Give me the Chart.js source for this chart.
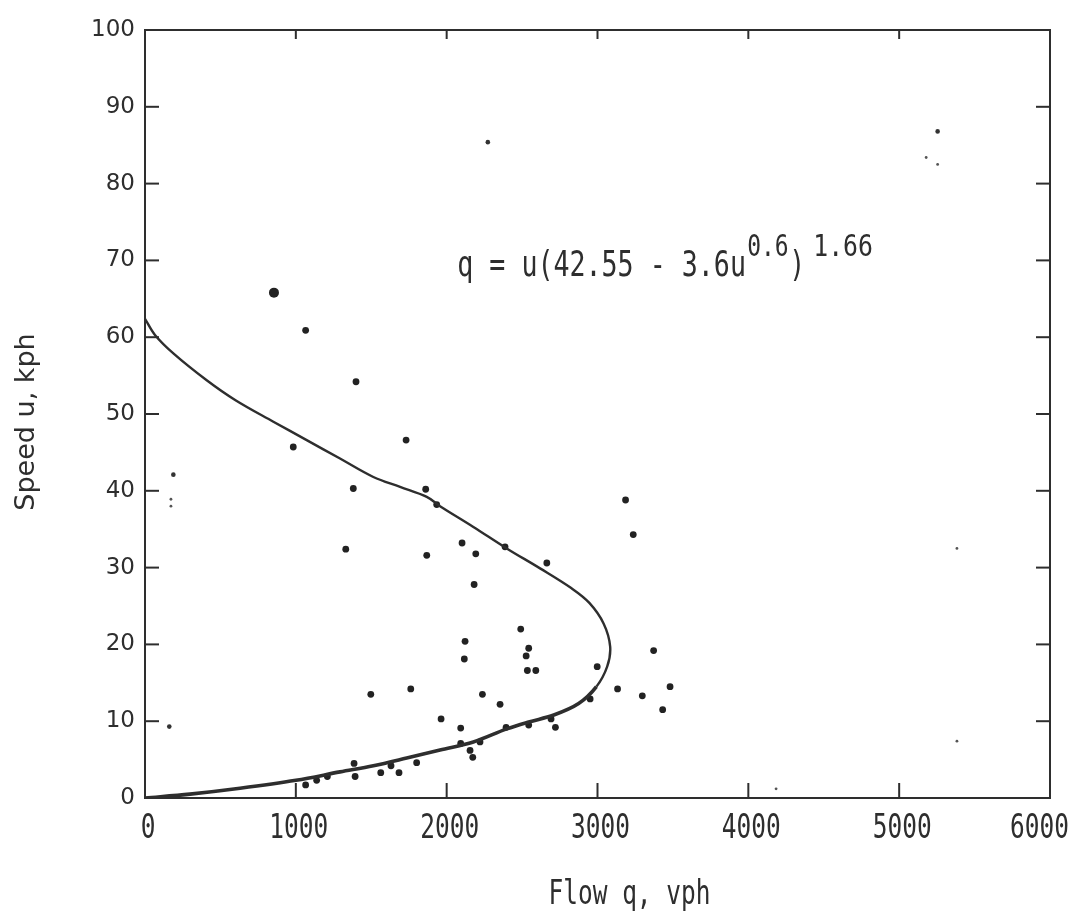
<!DOCTYPE html>
<html lang="en">
<head>
<meta charset="UTF-8">
<title>Speed-Flow Relationship</title>
<script src="https://cdn.jsdelivr.net/npm/chart.js"></script>
<style>
  html, body { margin: 0; padding: 0; background: #fff; }
  #wrap { width: 1074px; height: 915px; }
</style>
</head>
<body>
<div id="wrap"><canvas id="chart" width="1074" height="915"></canvas></div>
<script>
// axis ticks
const flowTicks = [0, 1000, 2000, 3000, 4000, 5000, 6000];
const speedTicks = [0, 10, 20, 30, 40, 50, 60, 70, 80, 90, 100];

// fitted curve, from the free-flow end round the nose to the origin
const curveFlow = [0, 66, 188, 409, 600, 851, 1072, 1293, 1514, 1691, 1868, 1956, 2177, 2398, 2619,
  2828, 2946, 3041, 3084, 3064, 2993, 2875, 2710, 2544, 2398, 2177, 1956, 1735, 1514, 1293, 1001, 630, 298, 0];
const curveSpeed = [62.4, 60.3, 57.9, 54.4, 51.8, 49.0, 46.6, 44.2, 41.8, 40.5, 39.2, 38.0, 35.3, 32.5, 29.9,
  27.3, 25.4, 22.7, 19.7, 17.1, 14.5, 12.3, 10.8, 9.9, 9.0, 7.3, 6.25, 5.2, 4.2, 3.4, 2.3, 1.26, 0.5, 0];

// observed points
const obsFlow = [1065, 1399, 983, 1731, 1381, 1861, 1934, 1331, 1868, 2102, 2193, 2387, 2182,
  2491, 2122, 2117, 2544, 2527, 2535, 2591, 1497, 1762, 2237, 2354, 1963, 2093, 2394, 2544,
  2093, 2221, 2155, 2173, 1386, 1393, 1563, 1631, 1684, 1801, 1065, 1138, 1209,
  3186, 3237, 2664, 2998, 3372, 3133, 3297, 3481, 3432, 2951, 2692, 2721];
const obsSpeed = [60.9, 54.2, 45.7, 46.6, 40.3, 40.2, 38.2, 32.4, 31.6, 33.2, 31.8, 32.7, 27.8,
  22.0, 20.4, 18.1, 19.5, 18.5, 16.6, 16.6, 13.5, 14.2, 13.5, 12.2, 10.3, 9.1, 9.2, 9.5,
  7.1, 7.3, 6.2, 5.3, 4.5, 2.8, 3.3, 4.2, 3.3, 4.6, 1.7, 2.3, 2.8,
  38.8, 34.3, 30.6, 17.1, 19.2, 14.2, 13.3, 14.5, 11.5, 12.9, 10.3, 9.2];

const bigFlow = [855];
const bigSpeed = [65.8];

const smallFlow = [2273, 5255, 161, 188];
const smallSpeed = [85.4, 86.8, 9.3, 42.1];

const faintFlow = [5179, 5255, 5383, 5383, 4184, 172, 172];
const faintSpeed = [83.4, 82.5, 32.5, 7.4, 1.2, 38.9, 38.0];

const equationText = 'q = u(42.55 - 3.6u';
const equationExp1 = '0.6';
const equationExp2 = '1.66';

const toPoints = (xs, ys) => xs.map((v, i) => ({ x: v, y: ys[i] }));

// the lower (congested) branch is inked heavier than the upper one
const noseIndex = curveFlow.indexOf(Math.max(...curveFlow));

const ink = '#2e2e2e';
const mono = '"DejaVu Sans Mono"';

function narrowText(ctx, str, x, y, size, squeeze, align, family) {
  ctx.save();
  ctx.translate(x, y);
  ctx.scale(squeeze, 1);
  ctx.font = size + 'px ' + (family || mono);
  ctx.textAlign = align;
  ctx.textBaseline = 'alphabetic';
  ctx.fillText(str, 0, 0);
  ctx.restore();
}

function narrowWidth(ctx, str, size, squeeze) {
  ctx.save();
  ctx.font = size + 'px ' + mono;
  const w = ctx.measureText(str).width * squeeze;
  ctx.restore();
  return w;
}

const framePlugin = {
  id: 'frame',
  afterDraw(chart) {
    const { ctx, chartArea: a, scales: { x, y } } = chart;
    ctx.save();
    ctx.strokeStyle = ink;
    ctx.fillStyle = ink;
    ctx.lineWidth = 2;
    ctx.strokeRect(a.left, a.top, a.right - a.left, a.bottom - a.top);

    const seg = (x1, y1, x2, y2) => {
      ctx.beginPath(); ctx.moveTo(x1, y1); ctx.lineTo(x2, y2); ctx.stroke();
    };
    // inward tick marks on all four sides
    speedTicks.slice(1, -1).forEach(v => {
      const py = y.getPixelForValue(v);
      seg(a.left, py, a.left + 14, py);
      seg(a.right - 14, py, a.right, py);
    });
    flowTicks.slice(1, -1).forEach(v => {
      const px = x.getPixelForValue(v);
      seg(px, a.bottom, px, a.bottom - 15);
      seg(px, a.top, px, a.top + 9);
    });

    // x tick labels (last one kept inside the canvas)
    flowTicks.forEach(v => {
      const label = String(v);
      const half = narrowWidth(ctx, label, 34, 0.72) / 2;
      const lx = Math.min(x.getPixelForValue(v) + 3, chart.width - 5 - half);
      narrowText(ctx, label, lx, a.bottom + 40, 34, 0.72, 'center');
    });

    // axis titles
    narrowText(ctx, 'Flow q, vph', (a.left + a.right) / 2 + 32, 904, 34, 0.72, 'center');
    ctx.save();
    ctx.translate(34, (a.top + a.bottom) / 2 + 8);
    ctx.rotate(-Math.PI / 2);
    narrowText(ctx, 'Speed u, kph', 0, 0, 27, 1, 'center', '"DejaVu Sans"');
    ctx.restore();

    // equation
    const ex = x.getPixelForValue(2070);
    const ey = y.getPixelForValue(68);
    const pitch = 16;
    narrowText(ctx, equationText, ex, ey, 36, 0.74, 'left');
    let cx = ex + equationText.length * pitch + 2;
    narrowText(ctx, equationExp1, cx, ey - 20, 31, 0.74, 'left');
    cx += 42;
    narrowText(ctx, ')', cx, ey, 36, 0.74, 'left');
    cx += 24;
    narrowText(ctx, equationExp2, cx, ey - 20, 31, 0.8, 'left');
    ctx.restore();
  }
};

new Chart(document.getElementById('chart'), {
  type: 'scatter',
  data: {
    datasets: [
      {
        label: 'Fitted curve',
        data: toPoints(curveFlow, curveSpeed),
        showLine: true,
        borderColor: ink,
        borderWidth: 2.4,
        segment: {
          borderWidth: c => (c.p0DataIndex >= noseIndex + 2 ? 3.6 : 2.4)
        },
        tension: 0.35,
        pointRadius: 0,
        fill: false
      },
      {
        label: 'Observed',
        data: toPoints(obsFlow, obsSpeed),
        pointRadius: 3.4,
        pointBackgroundColor: '#222',
        pointBorderWidth: 0
      },
      {
        label: 'Large',
        data: toPoints(bigFlow, bigSpeed),
        pointRadius: 5,
        pointBackgroundColor: '#222',
        pointBorderWidth: 0
      },
      {
        label: 'Small',
        data: toPoints(smallFlow, smallSpeed),
        pointRadius: 2.3,
        pointBackgroundColor: '#333',
        pointBorderWidth: 0
      },
      {
        label: 'Faint',
        data: toPoints(faintFlow, faintSpeed),
        pointRadius: 1.4,
        pointBackgroundColor: '#555',
        pointBorderWidth: 0
      }
    ]
  },
  options: {
    responsive: false,
    animation: false,
    layout: { padding: { top: 30, right: 24, left: 0, bottom: 0 } },
    plugins: {
      legend: { display: false },
      tooltip: { enabled: false }
    },
    scales: {
      x: {
        type: 'linear',
        min: 0,
        max: 6000,
        ticks: { display: false, stepSize: 1000 },
        grid: { display: false, drawTicks: false },
        border: { display: false },
        afterFit(scale) { scale.height = 117; }
      },
      y: {
        type: 'linear',
        min: 0,
        max: 100,
        ticks: {
          stepSize: 10,
          padding: 10,
          color: ink,
          font: { family: '"DejaVu Sans"', size: 23 }
        },
        grid: { display: false, drawTicks: false },
        border: { display: false },
        afterFit(scale) { scale.width = 145; }
      }
    }
  },
  plugins: [framePlugin]
});
</script>
</body>
</html>
